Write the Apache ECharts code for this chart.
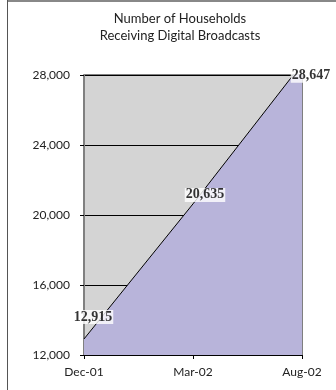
<!DOCTYPE html>
<html>
<head>
<meta charset="utf-8">
<script src="https://cdn.jsdelivr.net/npm/echarts@6/dist/echarts.min.js"></script>
<style>
html,body{margin:0;padding:0;background:#fff;}
#c{width:336px;height:390px;}
</style>
</head>
<body>
<div id="c"></div>
<script>
var titleText = 'Number of Households\nReceiving Digital Broadcasts';
var categories = ['Dec-01', 'Mar-02', 'Aug-02'];
var households = [12915, 20635, 28647];
var yTicks = [12000, 16000, 20000, 24000, 28000];

var labelOffsets = [[9, -10], [12, 3], [9, 24]];

var chart = echarts.init(document.getElementById('c'), null, {renderer: 'canvas'});
var labelData = households.map(function (v, i) {
  return {value: v, label: {offset: labelOffsets[i]}};
});
chart.setOption({
  animation: false,
  title: {
    text: titleText,
    left: 175, top: 5, textAlign: 'center',
    textStyle: {fontFamily: 'Lato', fontSize: 13, fontWeight: 'normal', color: '#222', lineHeight: 17}
  },
  graphic: [
    {type: 'line', shape: {x1: 7, y1: 1, x2: 336, y2: 1}, style: {stroke: '#888', lineWidth: 2}, z: 100},
    {type: 'line', shape: {x1: 7.5, y1: 0, x2: 7.5, y2: 390}, style: {stroke: '#555', lineWidth: 1}, z: 100}
  ],
  grid: {left: 84, right: 34, top: 75, bottom: 35, show: true, backgroundColor: '#d4d4d4', borderColor: '#000', borderWidth: 1},
  xAxis: {
    type: 'category', data: categories, boundaryGap: false,
    axisLine: {lineStyle: {color: '#000', width: 1}},
    axisTick: {show: true, length: 4, lineStyle: {color: '#000'}},
    axisLabel: {color: '#222', fontFamily: 'Lato', fontSize: 12, margin: 11}
  },
  yAxis: {
    type: 'value', min: yTicks[0], max: yTicks[yTicks.length - 1], interval: 4000,
    axisLine: {show: true, lineStyle: {color: '#808080', width: 2}},
    axisTick: {show: true, length: 4, lineStyle: {color: '#000'}},
    axisLabel: {color: '#222', fontFamily: 'Lato', fontSize: 12, margin: 14,
      formatter: function (v) { return v.toLocaleString('en-US'); }},
    splitLine: {show: true, lineStyle: {color: '#000', width: 1}}
  },
  series: [
    {
      type: 'line', data: households, clip: true,
      symbol: 'none',
      lineStyle: {color: '#000', width: 1},
      areaStyle: {color: '#b8b4da', opacity: 1}
    },
    {
      type: 'scatter', data: labelData, clip: false, symbolSize: 0,
      label: {
        show: true, position: 'top', color: '#000', fontFamily: 'Liberation Serif', fontWeight: 'bold', fontSize: 14,
        backgroundColor: '#fff', padding: [0, 1, 0, 1], lineHeight: 14,
        formatter: function (p) { return p.value.toLocaleString('en-US'); }
      },
      z: 10
    }
  ]
});
</script>
</body>
</html>
